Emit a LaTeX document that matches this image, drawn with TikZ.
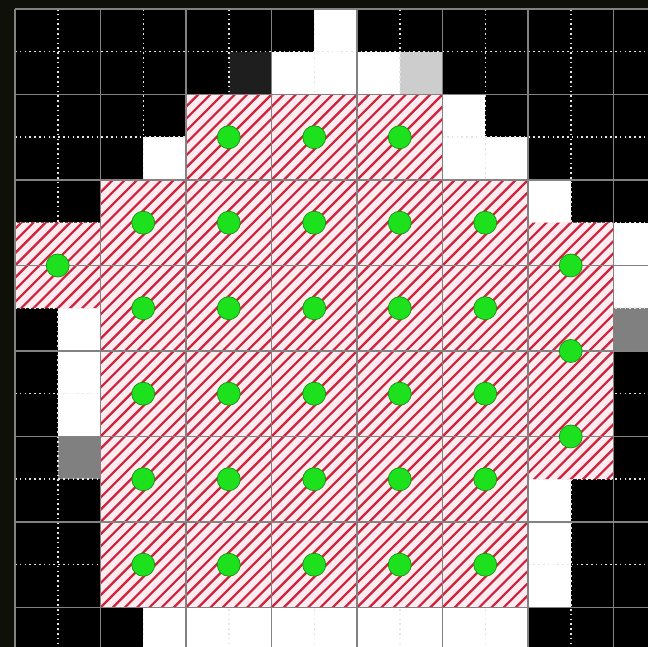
\documentclass[tikz,border=0pt]{standalone}
\definecolor{bgdark}{RGB}{16,16,10}
\definecolor{cellgray}{RGB}{128,128,128}
\definecolor{cellltgray}{RGB}{205,205,205}
\definecolor{celldkgray}{RGB}{30,30,30}
\definecolor{hatchbg}{RGB}{255,236,240}
\definecolor{hatchred}{RGB}{205,35,60}
\definecolor{gridgray}{RGB}{130,130,130}
\definecolor{dotgreen}{RGB}{30,225,30}
\tikzset{
  whitecell/.style={fill=white},
  graycell/.style={fill=cellgray},
  minorline/.style={draw=white!90!black, line width=1.5pt, dash pattern=on 1.6pt off 3.2pt},
  majorline/.style={draw=gridgray, line width=1.6pt},
  hatchline/.style={draw=hatchred, line width=2.2pt},
  gdot/.style={circle, fill=dotgreen, draw=dotgreen!65!black, line width=0.7pt, inner sep=0pt, minimum size=23pt}
}
\begin{document}
\begin{tikzpicture}
\useasboundingbox (0,0) rectangle (648pt,647pt);
\clip (0,0) rectangle (648pt,647pt);
\fill[bgdark] (0,0) rectangle (648pt,647pt);
\begin{scope}[shift={(15pt,638pt)}, x=42.75pt, y=-42.75pt]
  % base
  \fill[black] (0,0) rectangle (15,15);
  % white cells
  \foreach \i/\j in {7/0,6/1,7/1,8/1,10/2,3/3,10/3,11/3,12/4,14/5,14/6,1/7,1/8,1/9,12/11,12/12,12/13,3/14,4/14,5/14,6/14,7/14,8/14,9/14,10/14,11/14}
    \fill[whitecell] (\i,\j) rectangle ++(1,1);
  % gray cells
  \foreach \i/\j in {14/7,1/10}
    \fill[graycell] (\i,\j) rectangle ++(1,1);
  \fill[cellltgray] (9,1) rectangle ++(1,1);
  \fill[celldkgray] (5,1) rectangle ++(1,1);
  % minor dotted lines
  \foreach \k in {1,3,...,13} {
    \draw[minorline] (\k,0) -- (\k,15);
    \draw[minorline] (0,\k) -- (15,\k);
  }
  % hatched regions
  \begin{scope}
    \clip (4,2) rectangle (10,4) (2,4) rectangle (12,14) (0,5) rectangle (2,7) (12,5) rectangle (14,11);
    \fill[hatchbg] (0,0) rectangle (15,15);
    \foreach \n in {0,...,100}
      \draw[hatchline] ({\n*2/7-16},16) -- ++(17,-17);
  \end{scope}
  % major grid lines
  \foreach \k in {0,2,...,14} {
    \draw[majorline] (\k,0) -- (\k,15);
    \draw[majorline] (0,\k) -- (15,\k);
  }
  % green dots
  \foreach \x in {5,7,9}
    \node[gdot] (d-\x-3) at (\x,3) {};
  \foreach \x in {3,5,7,9,11}
    \foreach \y in {5,7,9,11,13}
      \node[gdot] (d-\x-\y) at (\x,\y) {};
  \node[gdot] (d-1-6) at (1,6) {};
  \foreach \y in {6,8,10}
    \node[gdot] (d-13-\y) at (13,\y) {};
\end{scope}
\end{tikzpicture}
\end{document}
